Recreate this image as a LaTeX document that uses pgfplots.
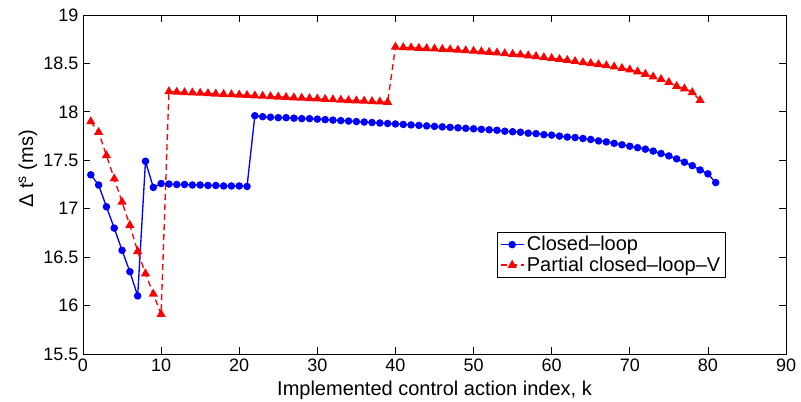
\documentclass[border=0pt]{standalone}
\usepackage{pgfplots}
\pgfplotsset{compat=1.18}
\usepackage{fontspec}
\setmainfont{Liberation Sans}

% closed-loop timing deviation per implemented control action
\pgfplotstableread{
k dt
1 17.35
2 17.245
3 17.02
4 16.80
5 16.57
6 16.35
7 16.10
8 17.49
9 17.22
10 17.26
11 17.255
12 17.25
13 17.25
14 17.245
15 17.245
16 17.24
17 17.24
18 17.235
19 17.235
20 17.235
21 17.23
22 17.96
23 17.95
24 17.945
25 17.94
26 17.94
27 17.935
28 17.93
29 17.93
30 17.925
31 17.92
32 17.915
33 17.91
34 17.905
35 17.90
36 17.895
37 17.89
38 17.885
39 17.88
40 17.875
41 17.87
42 17.865
43 17.86
44 17.855
45 17.85
46 17.845
47 17.84
48 17.835
49 17.83
50 17.825
51 17.82
52 17.815
53 17.81
54 17.80
55 17.795
56 17.79
57 17.78
58 17.775
59 17.765
60 17.76
61 17.75
62 17.74
63 17.735
64 17.725
65 17.715
66 17.70
67 17.69
68 17.675
69 17.66
70 17.645
71 17.63
72 17.615
73 17.595
74 17.57
75 17.545
76 17.515
77 17.48
78 17.445
79 17.40
80 17.36
81 17.27
}\closedloop

% partial closed-loop (V) timing deviation
\pgfplotstableread{
k dt
1 17.90
2 17.79
3 17.55
4 17.31
5 17.07
6 16.83
7 16.56
8 16.33
9 16.12
10 15.91
11 18.210
12 18.205
13 18.200
14 18.198
15 18.194
16 18.190
17 18.186
18 18.183
19 18.179
20 18.175
21 18.171
22 18.167
23 18.163
24 18.159
25 18.155
26 18.151
27 18.147
28 18.143
29 18.139
30 18.135
31 18.131
32 18.127
33 18.123
34 18.119
35 18.115
36 18.112
37 18.108
38 18.104
39 18.100
40 18.670
41 18.665
42 18.662
43 18.658
44 18.655
45 18.651
46 18.647
47 18.643
48 18.638
49 18.633
50 18.628
51 18.622
52 18.616
53 18.610
54 18.603
55 18.596
56 18.589
57 18.581
58 18.573
59 18.562
60 18.553
61 18.543
62 18.533
63 18.522
64 18.510
65 18.500
66 18.490
67 18.478
68 18.465
69 18.450
70 18.435
71 18.415
72 18.390
73 18.362
74 18.337
75 18.305
76 18.265
77 18.240
78 18.200
79 18.120
}\partialV

\begin{document}
\begin{tikzpicture}[x=1pt,y=1pt]
\begin{axis}[
  name=ax,
  scale only axis,
  width=527.25pt, height=254.25pt,
  xmin=0, xmax=90, ymin=15.5, ymax=19,
  xtick={0,10,...,90},
  ytick={15.5,16,16.5,17,17.5,18,18.5,19},
  tick align=inside,
  major tick length=5pt,
  axis line style={line width=0.6pt},
  every tick/.style={black, line width=0.6pt},
  tick label style={font=\fontsize{13.5}{15}\selectfont},
  /pgf/number format/assume math mode=true,
  yticklabel style={/pgf/number format/fixed},
  xlabel={Implemented control action index, k},
  ylabel={Δ t\textsuperscript{s} (ms)},
  label style={font=\fontsize{15}{17}\selectfont},
  xlabel style={at={(axis description cs:0.5,0)}, anchor=base, yshift=-30.75pt},
  ylabel style={at={(axis description cs:-0.0711,0.546)}, anchor=base},
  legend style={
    at={(0.589,0.36)}, anchor=north west,
    font=\fontsize{15}{17}\selectfont,
    draw=black, line width=0.6pt,
    inner xsep=2pt, inner ysep=1pt,
    row sep=-1pt,
    legend cell align=left,
  },
  legend image post style={line width=1pt},
]
\addplot[blue, line width=1pt, mark=*, mark size=2.3pt, mark options={solid, fill=blue}]
  table[x=k, y=dt] {\closedloop};
\addlegendentry{Closed–loop}
\addplot[red, line width=1pt, dash pattern=on 4.5pt off 3pt, mark=triangle*, mark size=3pt, mark options={solid, fill=red}]
  table[x=k, y=dt] {\partialV};
\addlegendentry{Partial closed–loop–V}
\end{axis}
\pgfresetboundingbox
\path[use as bounding box]
  ([shift={(-62.25pt,-35.25pt)}]ax.south west) rectangle
  ([shift={(11.25pt,11.25pt)}]ax.north east);
\end{tikzpicture}
\end{document}
